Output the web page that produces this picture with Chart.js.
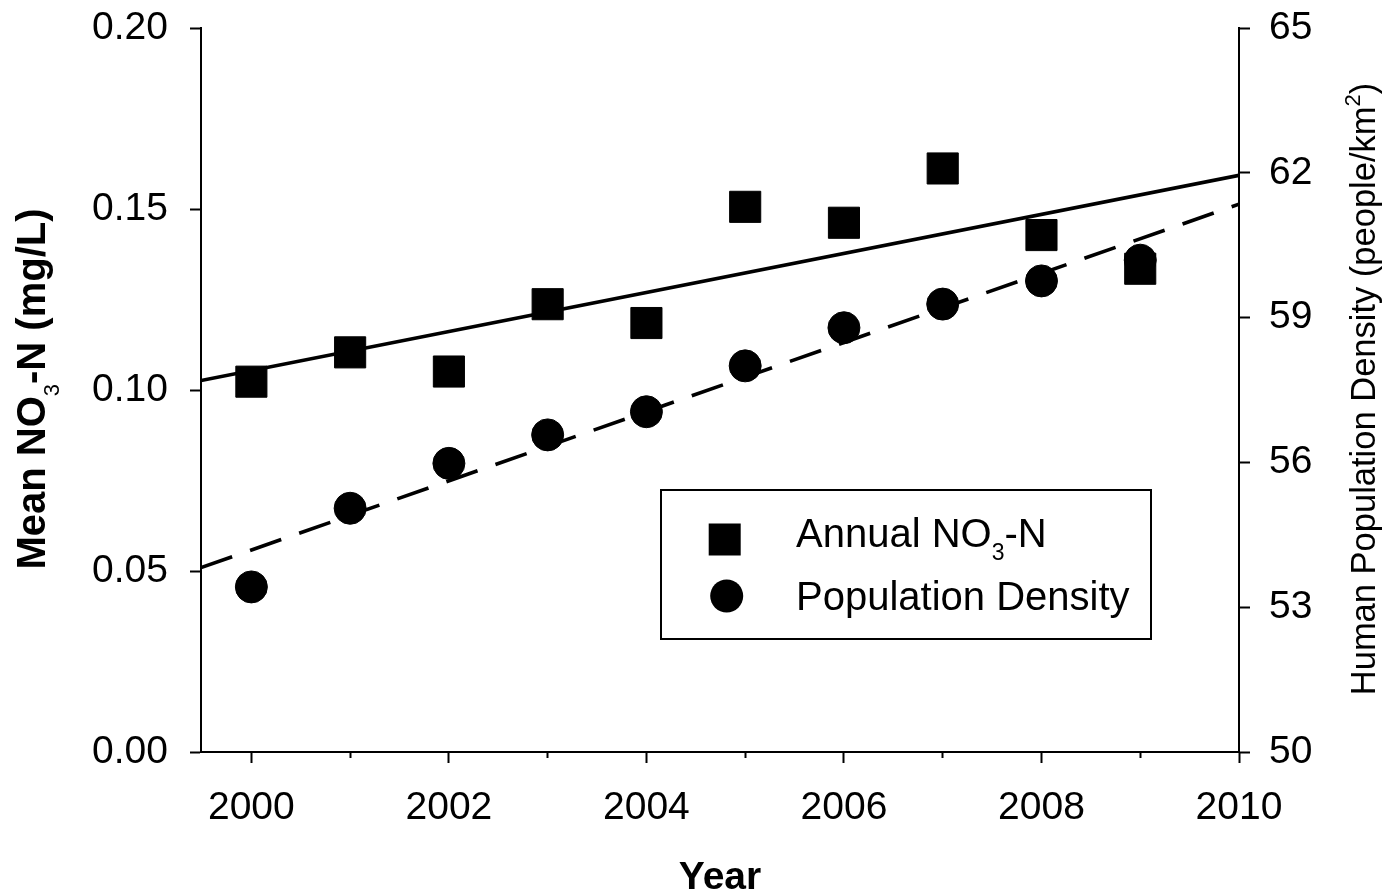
<!DOCTYPE html>
<html>
<head>
<meta charset="utf-8">
<script src="https://cdn.jsdelivr.net/npm/chart.js@4/dist/chart.umd.min.js"></script>
<style>
  html, body { margin: 0; padding: 0; background: #fff; }
  canvas { display: block; }
</style>
</head>
<body>
<canvas id="chart" width="1384" height="894" style="width:1384px;height:894px"></canvas>
<script>
// values
const years = [2000, 2001, 2002, 2003, 2004, 2005, 2006, 2007, 2008, 2009];
const no3 = [0.1023, 0.1104, 0.1051, 0.1237, 0.1185, 0.1506, 0.1462, 0.1612, 0.1428, 0.1335];
const popDensity = [53.42, 55.05, 55.98, 56.57, 57.05, 58.00, 58.79, 59.28, 59.76, 60.19];

// regression lines, end points at the axis limits
const fitYears = [1999.49, 2010];
const no3Fit = [0.1026, 0.1593];
const popFit = [53.82, 61.35];

const xMajorTicks = [2000, 2002, 2004, 2006, 2008, 2010];
const xMinorTicks = [2001, 2003, 2005, 2007, 2009];
const leftTicks = [0, 0.05, 0.10, 0.15, 0.20];
const rightTicks = [50, 53, 56, 59, 62, 65];

const FONT = '"Liberation Sans", Arial, Helvetica, sans-serif';

const pts = (xs, ys) => xs.map((x, i) => ({ x: x, y: ys[i] }));
const setTicks = list => scale => { scale.ticks = list.map(v => ({ value: v })); };

function axisGrid(len) {
  return { display: true, drawOnChartArea: false, drawTicks: true, tickLength: len, tickWidth: 2, tickColor: '#000' };
}

// fixed axis sizes so the plot area sits where it does in the figure
function fixSize(w, h) {
  return s => {
    if (w !== null) s.width = w;
    if (h !== null) s.height = h;
    s.paddingTop = 0; s.paddingBottom = 0; s.paddingLeft = 0; s.paddingRight = 0;
  };
}

// text with sub/superscripts, centred on (x, y), optionally rotated
function drawRich(ctx, parts, x, y, rot) {
  ctx.save();
  ctx.translate(x, y);
  ctx.rotate(rot || 0);
  ctx.textBaseline = 'alphabetic';
  ctx.textAlign = 'left';
  ctx.fillStyle = '#000';
  let total = 0;
  parts.forEach(p => { ctx.font = p.font; p.w = ctx.measureText(p.t).width; total += p.w; });
  let cx = -total / 2;
  parts.forEach(p => { ctx.font = p.font; ctx.fillText(p.t, cx, p.dy || 0); cx += p.w; });
  ctx.restore();
}

function drawRichLeft(ctx, parts, x, y) {
  ctx.save();
  ctx.textBaseline = 'alphabetic';
  ctx.textAlign = 'left';
  ctx.fillStyle = '#000';
  let cx = x;
  parts.forEach(p => { ctx.font = p.font; ctx.fillText(p.t, cx, y + (p.dy || 0)); cx += ctx.measureText(p.t).width; });
  ctx.restore();
}

const annotations = {
  id: 'annotations',
  afterDraw(chart) {
    const ctx = chart.ctx;
    const area = chart.chartArea;
    const midY = (area.top + area.bottom) / 2;
    const midX = (area.left + area.right) / 2;

    // axis titles
    drawRich(ctx, [
      { t: 'Mean NO', font: 'bold 40px ' + FONT },
      { t: '3', font: '22px ' + FONT, dy: 14 },
      { t: '-N (mg/L)', font: 'bold 40px ' + FONT }
    ], 45, midY - 1, -Math.PI / 2);

    drawRich(ctx, [
      { t: 'Human Population Density (people/km', font: '34.5px ' + FONT },
      { t: '2', font: '22px ' + FONT, dy: -15 },
      { t: ')', font: '34.5px ' + FONT }
    ], 1375, midY - 1, -Math.PI / 2);

    drawRich(ctx, [{ t: 'Year', font: 'bold 39px ' + FONT }], midX, 889);

    // legend box
    ctx.save();
    ctx.fillStyle = '#fff';
    ctx.fillRect(661, 490, 490, 149);
    ctx.strokeStyle = '#000';
    ctx.lineWidth = 2;
    ctx.strokeRect(661, 490, 490, 149);
    ctx.fillStyle = '#000';
    ctx.fillRect(724.7 - 16, 539.5 - 16, 32, 32);
    ctx.beginPath();
    ctx.arc(726.7, 596, 16.5, 0, Math.PI * 2);
    ctx.fill();
    ctx.restore();

    drawRichLeft(ctx, [
      { t: 'Annual NO', font: '40px ' + FONT },
      { t: '3', font: '23px ' + FONT, dy: 13 },
      { t: '-N', font: '40px ' + FONT }
    ], 796, 547);
    drawRichLeft(ctx, [{ t: 'Population Density', font: '40px ' + FONT }], 796, 610);
  }
};

new Chart(document.getElementById('chart'), {
  data: {
    datasets: [
      {
        type: 'scatter',
        label: 'Annual NO3-N',
        data: pts(years, no3),
        xAxisID: 'x',
        yAxisID: 'y',
        pointStyle: 'rect',
        pointRadius: 22,
        pointBorderWidth: 1,
        backgroundColor: '#000',
        borderColor: '#000',
        order: 0
      },
      {
        type: 'scatter',
        label: 'Population Density',
        data: pts(years, popDensity),
        xAxisID: 'x',
        yAxisID: 'y2',
        pointStyle: 'circle',
        pointRadius: 16,
        pointBorderWidth: 1,
        backgroundColor: '#000',
        borderColor: '#000',
        order: 0
      },
      {
        type: 'line',
        label: 'NO3 fit',
        data: pts(fitYears, no3Fit),
        xAxisID: 'x',
        yAxisID: 'y',
        borderColor: '#000',
        borderWidth: 3.6,
        pointRadius: 0,
        fill: false,
        order: 1
      },
      {
        type: 'line',
        label: 'Population fit',
        data: pts(fitYears, popFit),
        xAxisID: 'x',
        yAxisID: 'y2',
        borderColor: '#000',
        borderWidth: 3.6,
        borderDash: [33, 19],
        pointRadius: 0,
        fill: false,
        order: 1
      }
    ]
  },
  options: {
    responsive: false,
    animation: false,
    events: [],
    layout: { padding: { top: 28, left: 0, right: 0, bottom: 0 } },
    plugins: { legend: { display: false }, tooltip: { enabled: false } },
    scales: {
      xMinor: {
        type: 'linear',
        position: 'bottom',
        weight: 0,
        min: fitYears[0],
        max: 2010,
        afterFit: fixSize(null, 0),
        afterBuildTicks: setTicks(xMinorTicks),
        border: { display: false },
        grid: axisGrid(6),
        ticks: { display: false }
      },
      x: {
        type: 'linear',
        position: 'bottom',
        weight: 1,
        min: fitYears[0],
        max: 2010,
        afterFit: fixSize(null, 142),
        afterBuildTicks: setTicks(xMajorTicks),
        border: { display: true, color: '#000', width: 2 },
        grid: axisGrid(11),
        ticks: {
          color: '#000',
          font: { family: FONT, size: 39 },
          padding: 22,
          maxRotation: 0,
          autoSkip: false,
          callback: v => String(v)
        }
      },
      y: {
        type: 'linear',
        position: 'left',
        min: 0,
        max: 0.2,
        afterFit: fixSize(201, null),
        afterBuildTicks: setTicks(leftTicks),
        border: { display: true, color: '#000', width: 2 },
        grid: axisGrid(11),
        ticks: {
          color: '#000',
          font: { family: FONT, size: 39 },
          padding: 22,
          callback: v => v.toFixed(2)
        }
      },
      y2: {
        type: 'linear',
        position: 'right',
        min: 50,
        max: 65,
        afterFit: fixSize(145, null),
        afterBuildTicks: setTicks(rightTicks),
        border: { display: true, color: '#000', width: 2 },
        grid: axisGrid(11),
        ticks: {
          color: '#000',
          font: { family: FONT, size: 39 },
          padding: 19,
          callback: v => String(v)
        }
      }
    }
  },
  plugins: [annotations]
});
</script>
</body>
</html>
